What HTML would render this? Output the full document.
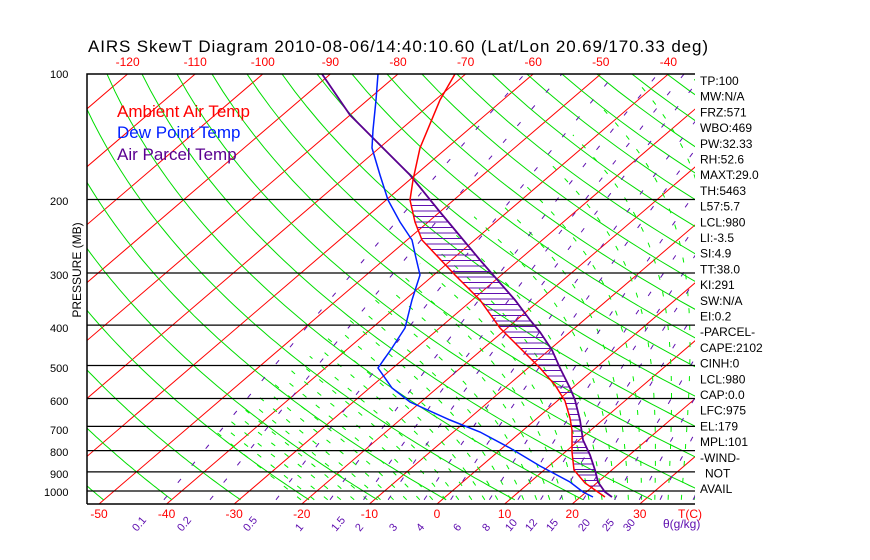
<!DOCTYPE html>
<html><head><meta charset="utf-8"><style>
body{margin:0;background:#fff;width:870px;height:560px;overflow:hidden}
svg{display:block;font-family:"Liberation Sans",sans-serif}
</style></head><body>
<svg id="s" width="870" height="560" xmlns="http://www.w3.org/2000/svg">
<defs><clipPath id="c"><rect x="87" y="74" width="608" height="430"/></clipPath></defs>
<g id="g" clip-path="url(#c)"></g>
<g id="t"></g>
</svg>
<script>
var NS="http://www.w3.org/2000/svg";
var g=document.getElementById('g'),tg=document.getElementById('t');
function yP(p){return 491+181.1*Math.log(p/1000);}
function xT(T,y){return 437+6.76*T+1.167*(504-y);}
function pl(pts,col,w,dash,par){var e=document.createElementNS(NS,'polyline');e.setAttribute('points',pts.map(function(a){return a[0].toFixed(1)+','+a[1].toFixed(1)}).join(' '));e.setAttribute('fill','none');e.setAttribute('stroke',col);e.setAttribute('stroke-width',w);if(dash)e.setAttribute('stroke-dasharray',dash);(par||g).appendChild(e);}
function tx(x,y,s,col,size,extra){var e=document.createElementNS(NS,'text');e.setAttribute('x',x);e.setAttribute('y',y);e.setAttribute('fill',col);e.setAttribute('font-size',size);if(extra)for(var k in extra)e.setAttribute(k,extra[k]);e.textContent=s;tg.appendChild(e);}
function es(T){return 6.112*Math.exp(17.67*T/(T+243.5));}
for(var T=-160;T<=50;T+=10){pl([[xT(T,504),504],[xT(T,74),74]],'#f00',1);}
for(var th=200;th<=520;th+=10){var a=[];for(var p=1050;p>=100;p-=10){var y=yP(p);a.push([xT(th*Math.pow(p/1000,0.286)-273.15,y),y]);}pl(a,'#0d0',1);}
function step(T,p,dp){var e=es(T-273.15),rs=0.622*e/(p-e),L=2.5e6;return dp*(287*T+L*rs)/(p*(1004+L*L*rs*0.622/(287*T*T)));}
for(var T0=-24;T0<=40;T0+=2){var T=T0+273.15,p;var pts=[];
 var Tb=T;for(var q=1000;q<1050;q+=5){Tb+=step(Tb,q,5);}pts.push([xT(Tb-273.15,yP(1050)),yP(1050)]);
 for(p=1000;p>=100;p-=5){if(T-273.15<-45)break;pts.push([xT(T-273.15,yP(p)),yP(p)]);T-=step(T,p,5);}
 if(pts.length>1)pl(pts,'#0e0',1,'5,12');}
var ws=[0.1,0.2,0.5,1,1.5,2,3,4,6,8,10,12,15,20,25,30,40];
ws.forEach(function(w){var a=[];for(var p=1050;p>=100;p-=10){var e=w*p/(622+w);var l=Math.log(e/6.112);var Td=243.5*l/(17.67-l);var y=yP(p);a.push([xT(Td,y),y]);}pl(a,'#6010b0',1,'5,17');});
[200,300,400,500,600,700,800,900,1000].forEach(function(p){pl([[87,yP(p)],[695,yP(p)]],'#000',1.2);});
var temp=[[455,74],[440,100],[420,148],[413,180],[410,200],[415,222],[422,240],[455,275],[480,300],[500,328],[522,350],[540,368],[555,385],[565,401],[570,418],[572,430],[572,452],[574,470],[585,483],[605,497]];
var dew=[[378,74],[376,100],[373,130],[372,148],[380,175],[388,200],[400,222],[412,240],[416,258],[420,275],[412,300],[405,328],[392,348],[378,368],[392,388],[410,402],[450,420],[480,432],[510,448],[540,466],[570,482],[583,492],[593,497]];
var par=[[322,74],[350,115],[385,150],[410,175],[440,212],[480,260],[515,300],[530,320],[540,332],[552,350],[560,368],[570,388],[575,400],[580,420],[583,440],[590,455],[595,470],[598,482],[605,492],[612,497]];
function xAt(c,y){for(var i=0;i<c.length-1;i++){if(y>=c[i][1]&&y<=c[i+1][1]){var f=(y-c[i][1])/(c[i+1][1]-c[i][1]||1);return c[i][0]+f*(c[i+1][0]-c[i][0]);}}return null;}
for(var y=200;y<=494;y+=5.5){var a=xAt(temp,y),b=xAt(par,y);if(a!=null&&b!=null&&b>a)pl([[a,y],[b,y]],'#6010b0',1);}
pl(par,'#5a0090',1.8);pl(temp,'#f00',1.5);pl(dew,'#0020ff',1.5);
var f=document.getElementById('s');
pl([[87,504],[87,74],[695,74]],'#000',1.5,null,f);pl([[87,504],[695,504]],'#000',1.5,null,f);
tx(88,52,'AIRS SkewT Diagram 2010-08-06/14:40:10.60 (Lat/Lon 20.69/170.33 deg)','#000',17,{'textLength':620});
for(var T=-120;T<=-40;T+=10)tx(xT(T,74),66,''+T,'#f00',12,{'text-anchor':'middle'});
for(var T=-50;T<=30;T+=10)tx(xT(T,504),518,''+T,'#f00',12,{'text-anchor':'middle'});
tx(678,518,'T(C)','#f00',12);
[[100,74],[200,201],[300,275],[400,328],[500,368],[600,401],[700,430],[800,452],[900,474],[1000,492]].forEach(function(q){tx(q[0]<1000?50:44,q[1]+4,''+q[0],'#000',11);});
tx(0,0,'PRESSURE (MB)','#000',12,{transform:'translate(81,270) rotate(-90)','text-anchor':'middle'});
tx(117,117,'Ambient Air Temp','#f00',17);tx(117,138,'Dew Point Temp','#0020ff',17);tx(117,160,'Air Parcel Temp','#5a0090',17);
var mx={'0.1':143,'0.2':188,'0.5':254,'1':306,'1.5':342,'2':366,'3':400,'4':427,'6':464,'8':493,'10':516,'12':536,'15':557,'20':589,'25':613,'30':634};
for(var k in mx)tx(0,0,k,'#6010b0',11,{transform:'translate('+(mx[k]-6)+',532) rotate(-50)'});
tx(663,528,'\u03b8(g/kg)','#6010b0',12);
var lab=['TP:100','MW:N/A','FRZ:571','WBO:469','PW:32.33','RH:52.6','MAXT:29.0','TH:5463','L57:5.7','LCL:980','LI:-3.5','SI:4.9','TT:38.0','KI:291','SW:N/A','EI:0.2','-PARCEL-','CAPE:2102','CINH:0','LCL:980','CAP:0.0','LFC:975','EL:179','MPL:101','-WIND-','NOT','AVAIL'];
lab.forEach(function(s,i){tx(s=='NOT'?705:700,85+i*15.7,s,'#000',12);});
</script>
</body></html>
